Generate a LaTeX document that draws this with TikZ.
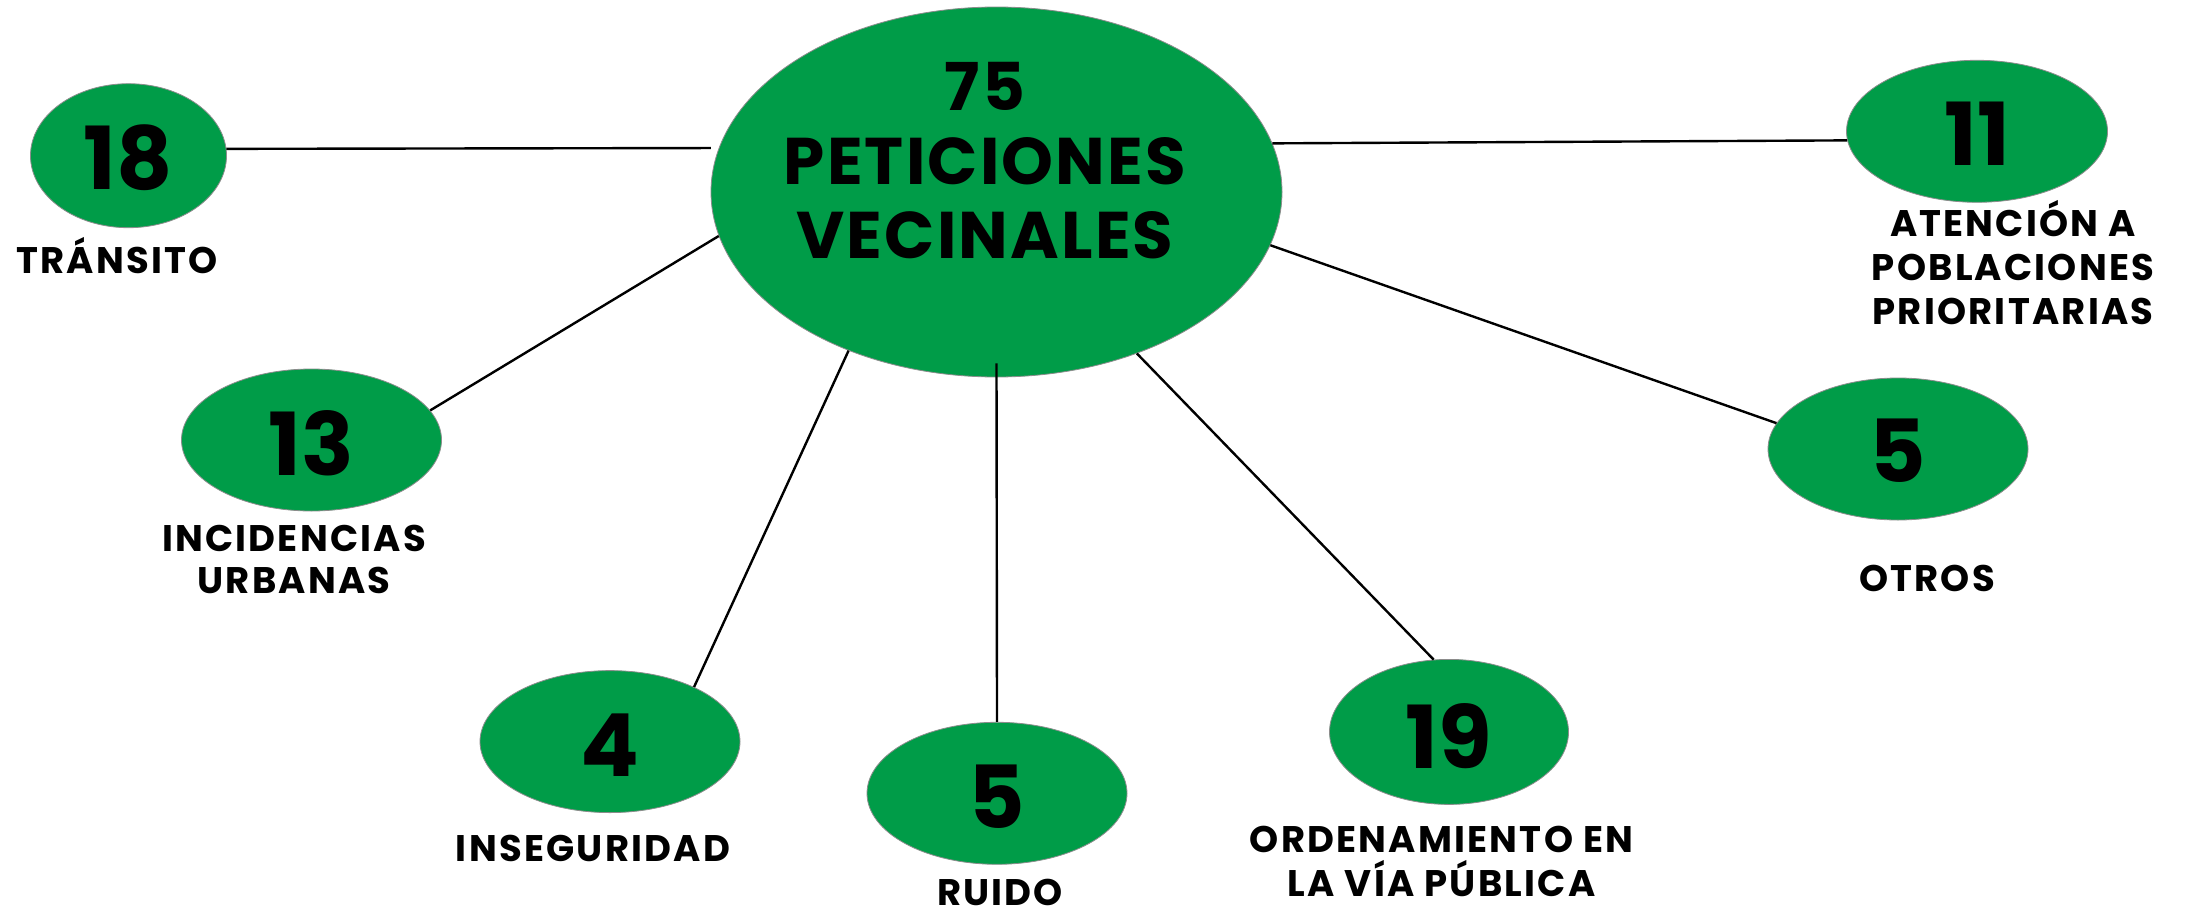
\documentclass[tikz,border=0pt]{standalone}
\usepackage{fontspec}
\setmainfont{Poppins}
\usetikzlibrary{shapes.geometric}
\definecolor{vgreen}{RGB}{0,156,72}
\newcommand{\labfont}[1]{\fontsize{37}{#1}\selectfont\bfseries\addfontfeatures{LetterSpace=6}}
\begin{document}
\begin{tikzpicture}[x=1pt,y=-1pt,
  bub/.style={ellipse, fill=vgreen, draw=black!45, line width=0.8pt, inner sep=0pt,
              minimum width=260pt, minimum height=142pt},
  num/.style={font=\fontsize{87}{87}\selectfont\bfseries, inner sep=0pt, anchor=base},
  lab/.style={font=\labfont{45}, align=center, inner sep=0pt, anchor=south},
  link/.style={line width=2.4pt, black}]
\useasboundingbox (0,0) rectangle (2190,910);
% bubbles
\node[bub, minimum width=571pt, minimum height=370pt] (c) at (996.5,192) {};
\node[bub, minimum width=196pt, minimum height=144pt] (e18) at (128.5,155.7) {};
\node[bub, minimum width=261pt, minimum height=142pt] (e11) at (1977,131.3) {};
\node[bub] (e13) at (311.5,440) {};
\node[bub] (e5o) at (1898,449) {};
\node[bub] (e4) at (610,741.6) {};
\node[bub] (e5r) at (997,793.3) {};
\node[bub, minimum width=239pt, minimum height=145pt] (e19) at (1449,731.9) {};
% connectors
\draw[link, shorten >=8pt] (e18.4) -- (c.171);
\draw[link] (e13.14) -- (c.189);
\draw[link] (e4.33) -- (c.227);
\draw[link] (e5r.north) -- ([yshift=14pt]c.south);
\draw[link] (e19.102) -- (c.311);
\draw[link] (e5o.168) -- (c.349);
\draw[link] (e11.184) -- (c.10);
% numbers
\node[num] (n18) at (128.5,189.7) {18};
\node[num] (n11) at (1977,165.3) {11};
\node[num] (n13) at (311.5,475) {13};
\node[num] (n5o) at (1898,482) {5};
\node[num] (n4) at (610,776) {4};
\node[num] (n5r) at (997,828) {5};
\node[num] (n19) at (1449,768) {19};
% centre text
\node[font=\fontsize{66}{74}\selectfont\bfseries\addfontfeatures{LetterSpace=3.3}, align=center, inner sep=0pt, anchor=south]
  (ct) at (985,259) {75\\PETICIONES\\VECINALES};
% labels
\node[lab] (lTr) at (117,273.5) {TRÁNSITO};
\node[lab, font=\labfont{44}] (lAt) at (2013,325) {ATENCIÓN A\\POBLACIONES\\PRIORITARIAS};
\node[lab, font=\labfont{42}] (lIn) at (294,594) {INCIDENCIAS\\URBANAS};
\node[lab] (lOt) at (1927,592) {OTROS};
\node[lab] (lIs) at (593,861.7) {INSEGURIDAD};
\node[lab] (lRu) at (1000,905.5) {RUIDO};
\node[lab, font=\labfont{43.5}] (lOr) at (1441.5,896.5) {ORDENAMIENTO EN\\LA VÍA PÚBLICA};
\end{tikzpicture}
\end{document}
